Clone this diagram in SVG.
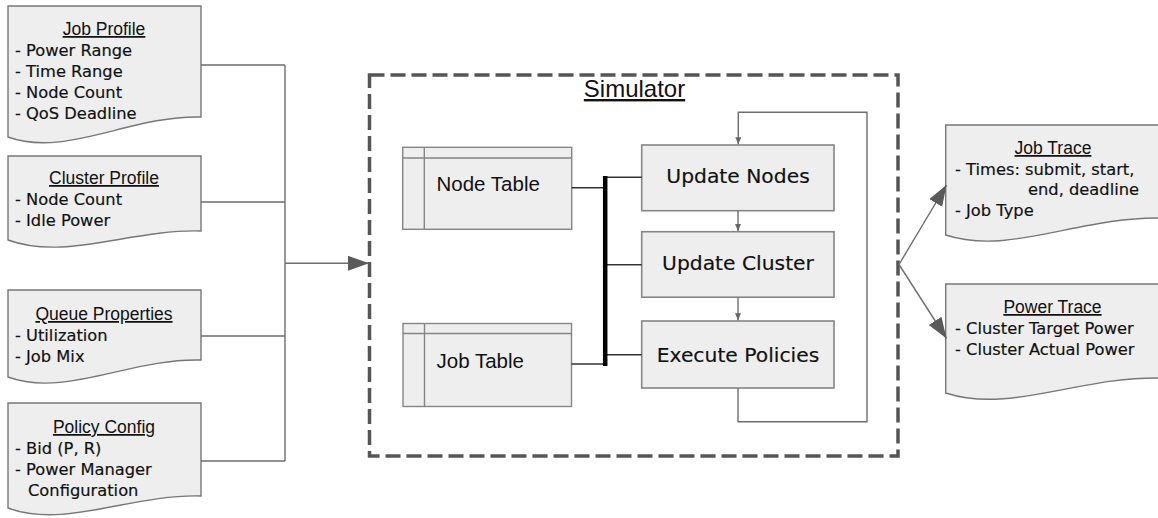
<svg xmlns="http://www.w3.org/2000/svg" width="1158" height="518" viewBox="0 0 1158 518">
  <style>
    .doc { fill: #eeeeee; stroke: #777777; stroke-width: 1.4; }
    .ttl { font-family: "Liberation Sans", Arial, sans-serif; font-size: 17.5px; fill: #111; text-anchor: middle; text-decoration: underline; }
    .itm { font-family: "DejaVu Sans", Verdana, sans-serif; font-size: 16.3px; fill: #111; stroke: #111; stroke-width: 0.18; }
    .tbl { fill: #eeeeee; stroke: #858585; stroke-width: 1.4; }
    .tbltxt { font-family: "Liberation Sans", Arial, sans-serif; font-size: 20.5px; fill: #111; }
    .proc { fill: #eeeeee; stroke: #858585; stroke-width: 1.6; }
    .proctxt { font-family: "DejaVu Sans", Verdana, sans-serif; font-size: 20.3px; fill: #111; stroke: #111; stroke-width: 0.18; text-anchor: middle; }
    .wire { fill: none; stroke: #6e6e6e; stroke-width: 1.4; }
    .dark { fill: none; stroke: #333; stroke-width: 1.6; }
  </style>
  <defs>
    <marker id="bigArrow" markerUnits="userSpaceOnUse" markerWidth="22" markerHeight="16" refX="21" refY="7.5" orient="auto">
      <path d="M0,0 L21,7.5 L0,15 Z" fill="#5a5a5a"/>
    </marker>
    <marker id="smallArrow" markerUnits="userSpaceOnUse" markerWidth="8" markerHeight="8" refX="7" refY="3" orient="auto">
      <path d="M0,0 L7,3 L0,6 Z" fill="#666"/>
    </marker>
  </defs>

  <rect width="1158" height="518" fill="#ffffff"/>

  <!-- input documents -->
  <g id="job-profile">
    <path class="doc" d="M8,6 H201 V117 C131,115 65,158 8,137 Z"/>
    <text class="ttl" x="104" y="35">Job Profile</text>
    <text class="itm" x="15" y="56">- Power Range</text>
    <text class="itm" x="15" y="77">- Time Range</text>
    <text class="itm" x="15" y="98">- Node Count</text>
    <text class="itm" x="15" y="119">- QoS Deadline</text>
  </g>
  <g id="cluster-profile">
    <path class="doc" d="M8,156 H201 V231 C131,229 65,261 8,240 Z"/>
    <text class="ttl" x="104" y="184">Cluster Profile</text>
    <text class="itm" x="15" y="205">- Node Count</text>
    <text class="itm" x="15" y="226">- Idle Power</text>
  </g>
  <g id="queue-properties">
    <path class="doc" d="M8,290 H201 V360 C131,358 65,398 8,377 Z"/>
    <text class="ttl" x="104" y="320">Queue Properties</text>
    <text class="itm" x="15" y="341">- Utilization</text>
    <text class="itm" x="15" y="362">- Job Mix</text>
  </g>
  <g id="policy-config">
    <path class="doc" d="M8,403 H201 V496 C131,494 65,529 8,508 Z"/>
    <text class="ttl" x="104" y="433">Policy Config</text>
    <text class="itm" x="15" y="454">- Bid (P, R)</text>
    <text class="itm" x="15" y="475">- Power Manager</text>
    <text class="itm" x="28" y="496">Configuration</text>
  </g>

  <!-- simulator container -->
  <g id="simulator">
    <rect x="369.5" y="75" width="528.5" height="381" fill="none" stroke="#555555" stroke-width="3.5" stroke-dasharray="15 6"/>
    <text x="634.5" y="97" font-family="Liberation Sans, Arial, sans-serif" font-size="24" fill="#111" text-anchor="middle" text-decoration="underline">Simulator</text>
  </g>

  <g id="node-table">
    <rect class="tbl" x="402.7" y="147.3" width="169" height="82"/>
    <line class="tbl" x1="402.7" y1="158" x2="571.7" y2="158"/>
    <line class="tbl" x1="424.3" y1="147.3" x2="424.3" y2="229.3"/>
    <text class="tbltxt" x="436.5" y="191">Node Table</text>
  </g>
  <g id="job-table">
    <rect class="tbl" x="403" y="323.5" width="168.5" height="83"/>
    <line class="tbl" x1="403" y1="333.5" x2="571.5" y2="333.5"/>
    <line class="tbl" x1="424.5" y1="323.5" x2="424.5" y2="406.5"/>
    <text class="tbltxt" x="436.5" y="368">Job Table</text>
  </g>

  <g id="update-nodes">
    <rect class="proc" x="641.7" y="145" width="192.3" height="65.7"/>
    <text class="proctxt" x="738" y="183">Update Nodes</text>
  </g>
  <g id="update-cluster">
    <rect class="proc" x="641.7" y="231.7" width="192.3" height="65.5"/>
    <text class="proctxt" x="738" y="270">Update Cluster</text>
  </g>
  <g id="execute-policies">
    <rect class="proc" x="641.7" y="321" width="192.3" height="67"/>
    <text class="proctxt" x="738" y="362">Execute Policies</text>
  </g>

  <!-- output documents -->
  <g id="job-trace">
    <path class="doc" d="M945.7,125 H1162 V218 C1080,216 1010,256 945.7,235 Z"/>
    <text class="ttl" x="1053" y="154">Job Trace</text>
    <text class="itm" x="955" y="175">- Times: submit, start,</text>
    <text class="itm" x="1028" y="195">end, deadline</text>
    <text class="itm" x="955" y="216">- Job Type</text>
  </g>
  <g id="power-trace">
    <path class="doc" d="M945.7,284 H1162 V378 C1080,376 1010,414 945.7,393 Z"/>
    <text class="ttl" x="1052.5" y="313">Power Trace</text>
    <text class="itm" x="955" y="334">- Cluster Target Power</text>
    <text class="itm" x="955" y="355">- Cluster Actual Power</text>
  </g>

  <!-- connectors -->
  <g id="connectors">
    <!-- inputs merge into the simulator -->
    <path class="wire" d="M201,65 H285 M201,202 H285 M201,336 H285 M201,461 H285 M285,65 V461"/>
    <path class="wire" d="M285,263.3 H369" marker-end="url(#bigArrow)"/>

    <!-- table bus -->
    <path class="dark" d="M571.7,187.7 H605 M571.5,364 H605"/>
    <path class="dark" d="M605,177.3 H641.7 M605,264.7 H641.7 M605,354.7 H641.7"/>
    <line x1="605.2" y1="176" x2="605.2" y2="366" stroke="#000" stroke-width="4.5"/>

    <!-- process chain -->
    <path class="wire" d="M738,210.7 V231" marker-end="url(#smallArrow)"/>
    <path class="wire" d="M738,297.2 V320.3" marker-end="url(#smallArrow)"/>
    <path class="wire" d="M738,388 V421.8 H867 V112.3 H738.3 V144.3" marker-end="url(#smallArrow)"/>

    <!-- simulator outputs -->
    <path class="wire" d="M899,264.5 L946.5,185" marker-end="url(#bigArrow)"/>
    <path class="wire" d="M899,264.5 L946.5,338.5" marker-end="url(#bigArrow)"/>
  </g>
</svg>
